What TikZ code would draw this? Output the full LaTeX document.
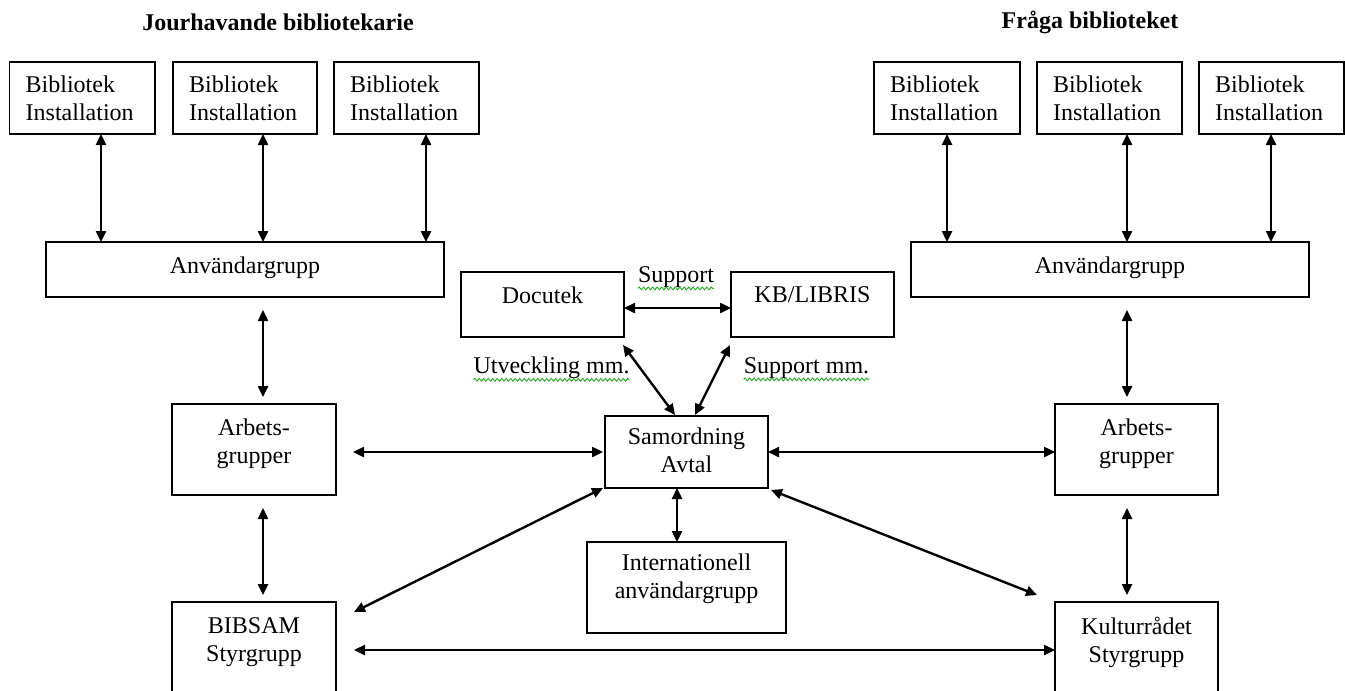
\documentclass[tikz,border=0pt]{standalone}
\usepackage{fontspec}
\setmainfont{Liberation Serif}
\usetikzlibrary{arrows.meta,calc,decorations.pathmorphing}
\definecolor{sqgreen}{RGB}{40,170,40}
\begin{document}
\begin{tikzpicture}[x=1pt,y=-1pt,
  box/.style={draw, line width=1.4pt, outer sep=0pt, inner sep=0pt},
  txt/.style={inner sep=0pt, align=center, font=\fontsize{24}{28}\selectfont},
  ttl/.style={inner sep=0pt, font=\fontsize{24}{28}\selectfont\bfseries},
  arr/.style={line width=2.4pt, {Triangle[length=11pt,width=10pt]}-{Triangle[length=11pt,width=10pt]}},
  squig/.style={draw=sqgreen, line width=0.9pt, decorate, decoration={snake, amplitude=1.4pt, segment length=4.5pt}},
  ]
\useasboundingbox (0,0) rectangle (1345,691);
\clip (0,0) rectangle (1345,691);

% titles
\node[ttl] (h1) at (278,22) {Jourhavande bibliotekarie};
\node[ttl] (h2) at (1090,22) {Fråga biblioteket};

% Bibliotek boxes
\node[box, minimum width=145.5pt, minimum height=72pt] (b1) at (82.25,98) {};
\node[box, minimum width=144pt, minimum height=72pt] (b2) at (245,98) {};
\node[box, minimum width=145pt, minimum height=72pt] (b3) at (406.5,98) {};
\node[box, minimum width=146pt, minimum height=72pt] (b4) at (947,98) {};
\node[box, minimum width=145pt, minimum height=72pt] (b5) at (1109.5,98) {};
\node[box, minimum width=145pt, minimum height=72pt] (b6) at (1271.5,98) {};
\foreach \i in {1,...,6}{
  \node[txt, align=left, anchor=west] (t\i) at ($(b\i.west)+(16,0)$) {Bibliotek\\Installation};
}

% Användargrupp
\node[box, minimum width=398pt, minimum height=55pt] (anvL) at (245,269.5) {};
\node[txt] (tanvL) at (245,268) {Användargrupp};
\node[box, minimum width=398pt, minimum height=55pt] (anvR) at (1110,269.5) {};
\node[txt] (tanvR) at (1110,268) {Användargrupp};

% Docutek, KB
\node[box, minimum width=163pt, minimum height=65pt] (doc) at (542.5,304.5) {};
\node[txt] (tdoc) at (542.5,295) {Docutek};
\node[box, minimum width=163pt, minimum height=65pt] (kb) at (812.5,304.5) {};
\node[txt] (tkb) at (812.5,295) {KB/LIBRIS};

% Arbetsgrupper
\node[box, minimum width=164pt, minimum height=91pt] (arbL) at (254,449.5) {};
\node[txt] (tarbL) at (254,444) {Arbets-\\grupper};
\node[box, minimum width=163pt, minimum height=91pt] (arbR) at (1136.5,449.5) {};
\node[txt] (tarbR) at (1136.5,444) {Arbets-\\grupper};

% Samordning
\node[box, minimum width=163pt, minimum height=72pt] (sam) at (686.5,452) {};
\node[txt] (tsam) at (686.5,450) {Samordning\\Avtal};

% Internationell
\node[box, minimum width=199pt, minimum height=91pt] (intl) at (686.5,587.5) {};
\node[txt] (tintl) at (686.5,579) {Internationell\\användargrupp};

% Styrgrupper
\node[box, minimum width=164pt, minimum height=91pt] (bib) at (254,647.5) {};
\node[txt] (tbib) at (254,642) {BIBSAM\\Styrgrupp};
\node[box, minimum width=163pt, minimum height=91pt] (kul) at (1136.5,647.5) {};
\node[txt] (tkul) at (1136.5,642) {Kulturrådet\\Styrgrupp};

% edge labels
\node[txt] (lsup) at (676,277) {Support};
\node[txt] (lutv) at (551.5,368) {Utveckling mm.};
\node[txt] (lsupm) at (806.5,368) {Support mm.};
\draw[squig] ([yshift=-6pt]lsup.base west) -- ([yshift=-6pt]lsup.base east);
\draw[squig] ([yshift=-6pt]lutv.base west) -- ([yshift=-6pt]lutv.base east);
\draw[squig] ([yshift=-6pt]lsupm.base west) -- ([yshift=-6pt]lsupm.base east);

% column coordinates
\coordinate (x1) at (101,0);
\coordinate (x2) at (263,0);
\coordinate (x3) at (426,0);
\coordinate (x4) at (947,0);
\coordinate (x5) at (1127,0);
\coordinate (x6) at (1271,0);
\coordinate (ybot) at (0,650);

% Bibliotek <-> Användargrupp
\draw[arr] (x1 |- b1.south) -- (x1 |- anvL.north);
\draw[arr] (x2 |- b2.south) -- (x2 |- anvL.north);
\draw[arr] (x3 |- b3.south) -- (x3 |- anvL.north);
\draw[arr] (x4 |- b4.south) -- (x4 |- anvR.north);
\draw[arr] (x5 |- b5.south) -- (x5 |- anvR.north);
\draw[arr] (x6 |- b6.south) -- (x6 |- anvR.north);

% vertical chains
\draw[arr, shorten <=13pt, shorten >=7pt] (x2 |- anvL.south) -- (x2 |- arbL.north);
\draw[arr, shorten <=13pt, shorten >=7pt] (x2 |- arbL.south) -- (x2 |- bib.north);
\draw[arr, shorten <=13pt, shorten >=7pt] (x5 |- anvR.south) -- (x5 |- arbR.north);
\draw[arr, shorten <=13pt, shorten >=7pt] (x5 |- arbR.south) -- (x5 |- kul.north);

% horizontals
\draw[arr, shorten <=17pt, shorten >=2pt] (arbL.east |- sam.west) -- (sam.west);
\draw[arr] (sam.east) -- (sam.east -| arbR.west);
\draw[arr, shorten <=18pt] (bib.east |- ybot) -- (kul.west |- ybot);
\draw[arr] ($(doc.east)+(0,3.5)$) -- ($(kb.west)+(0,3.5)$);

% diagonals
\draw[arr] ($(bib.north east)+(18,10)$) -- ($(sam.south west)+(-2,0)$);
\draw[arr] ($(sam.south east)+(3,2)$) -- ($(kul.north west)+(-18,-7)$);
\draw[arr] ($(doc.south east)+(-1,8)$) -- ($(sam.north)+(-11.5,-1)$);
\draw[arr] ($(kb.south west)+(-1,8)$) -- ($(sam.north)+(8.5,-1)$);
\draw[arr] ($(sam.south)+(-9.5,0)$) -- ($(intl.north)+(-9.5,0)$);

\end{tikzpicture}
\end{document}
